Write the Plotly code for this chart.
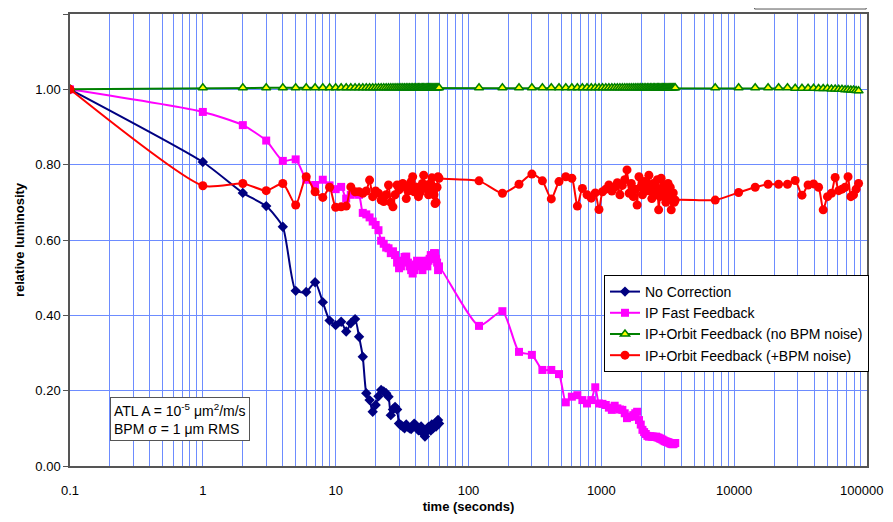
import plotly.graph_objects as go

# ---------------- data ----------------
t_sec = list(range(1, 61))                 # 1 .. 60 s, every second
t_min = list(range(120, 3601, 60))         # 120 .. 3600 s, every minute
t_hour = list(range(7200, 86401, 3600))    # 2 h .. 24 h, every hour

t_blue = [0.1] + t_sec
blue_vals = [1.0,
    0.807, 0.725, 0.690, 0.635, 0.465, 0.462, 0.488, 0.435, 0.386, 0.374,
    0.383, 0.357, 0.379, 0.390, 0.343, 0.290, 0.193, 0.175, 0.144, 0.162,
    0.185, 0.202, 0.198, 0.193, 0.184, 0.135, 0.150, 0.157, 0.150, 0.113,
    0.108, 0.105, 0.100, 0.110, 0.104, 0.100, 0.098, 0.106, 0.112, 0.109,
    0.100, 0.095, 0.096, 0.105, 0.090, 0.085, 0.078, 0.090, 0.098, 0.104,
    0.100, 0.094, 0.110, 0.100, 0.108, 0.113, 0.105, 0.118, 0.122, 0.113]

t_mag = [0.1] + t_sec + t_min
mag_vals = [1.0,
    0.940, 0.905, 0.864, 0.810, 0.814, 0.760, 0.746, 0.760, 0.745, 0.735,
    0.741, 0.710, 0.720, 0.725, 0.720, 0.672, 0.668, 0.660, 0.649, 0.640,
    0.626, 0.598, 0.590, 0.580, 0.578, 0.565, 0.570, 0.560, 0.540, 0.525,
    0.530, 0.545, 0.555, 0.556, 0.540, 0.530, 0.520, 0.511, 0.520, 0.535,
    0.545, 0.540, 0.542, 0.530, 0.520, 0.535, 0.545, 0.540, 0.530, 0.545,
    0.550, 0.560, 0.555, 0.560, 0.565, 0.565, 0.550, 0.540, 0.520, 0.530,
    # every minute 120 .. 3600
    0.372, 0.411, 0.303, 0.295, 0.255, 0.255, 0.244, 0.169, 0.184, 0.188,
    0.175, 0.166, 0.175, 0.209, 0.166, 0.165, 0.162, 0.155, 0.149, 0.160,
    0.153, 0.150, 0.149, 0.140, 0.127, 0.130, 0.131, 0.135, 0.140, 0.144,
    0.122, 0.110, 0.096, 0.090, 0.085, 0.080, 0.078, 0.079, 0.078, 0.078,
    0.077, 0.078, 0.076, 0.075, 0.073, 0.072, 0.070, 0.068, 0.066, 0.065,
    0.064, 0.063, 0.062, 0.060, 0.059, 0.058, 0.058, 0.060, 0.061, 0.061]

t_all = [0.1] + t_sec + t_min + t_hour
green_vals = [1.000,
    1.004, 1.004, 1.004, 1.004, 1.004, 1.004, 1.004, 1.004, 1.004, 1.004,
    1.004, 1.004, 1.004, 1.004, 1.004, 1.004, 1.004, 1.004, 1.004, 1.004,
    1.004, 1.004, 1.004, 1.004, 1.004, 1.004, 1.004, 1.004, 1.004, 1.004,
    1.004, 1.004, 1.004, 1.004, 1.004, 1.004, 1.004, 1.004, 1.004, 1.004,
    1.004, 1.004, 1.004, 1.004, 1.004, 1.004, 1.004, 1.004, 1.004, 1.004,
    1.004, 1.004, 1.004, 1.004, 1.004, 1.004, 1.004, 1.004, 1.004, 1.004,
    # every minute
    1.004, 1.004, 1.004, 1.004, 1.004, 1.004, 1.004, 1.004, 1.004, 1.004,
    1.004, 1.004, 1.004, 1.004, 1.004, 1.004, 1.004, 1.004, 1.004, 1.004,
    1.004, 1.004, 1.004, 1.004, 1.004, 1.004, 1.004, 1.004, 1.004, 1.004,
    1.004, 1.004, 1.004, 1.004, 1.004, 1.004, 1.004, 1.004, 1.004, 1.004,
    1.004, 1.004, 1.004, 1.004, 1.004, 1.004, 1.004, 1.004, 1.004, 1.004,
    1.004, 1.004, 1.004, 1.004, 1.004, 1.004, 1.004, 1.004, 1.004, 1.004,
    # every hour
    1.004, 1.004, 1.004, 1.004, 1.004, 1.003, 1.003, 1.003, 1.003, 1.002,
    1.002, 1.002, 1.001, 1.001, 1.000, 1.000, 0.999, 0.999, 0.998, 0.998,
    0.997, 0.996, 0.995]

red_vals = [1.0,
    0.744, 0.750, 0.731, 0.750, 0.693, 0.768, 0.728, 0.713, 0.740, 0.687,
    0.688, 0.690, 0.741, 0.728, 0.728, 0.724, 0.730, 0.759, 0.715, 0.730,
    0.724, 0.706, 0.702, 0.720, 0.746, 0.700, 0.688, 0.720, 0.746, 0.733,
    0.740, 0.750, 0.745, 0.710, 0.730, 0.740, 0.755, 0.768, 0.728, 0.741,
    0.735, 0.715, 0.725, 0.740, 0.750, 0.772, 0.737, 0.745, 0.746, 0.720,
    0.730, 0.750, 0.765, 0.740, 0.720, 0.697, 0.700, 0.740, 0.768, 0.764,
    # every minute
    0.757, 0.724, 0.748, 0.775, 0.757, 0.709, 0.755, 0.768, 0.764, 0.690,
    0.737, 0.720, 0.711, 0.725, 0.681, 0.728, 0.735, 0.746, 0.730, 0.740,
    0.752, 0.720, 0.745, 0.760, 0.786, 0.724, 0.750, 0.715, 0.735, 0.693,
    0.768, 0.740, 0.720, 0.755, 0.730, 0.745, 0.772, 0.730, 0.710, 0.750,
    0.720, 0.740, 0.760, 0.680, 0.715, 0.764, 0.730, 0.745, 0.720, 0.700,
    0.735, 0.750, 0.720, 0.740, 0.680, 0.710, 0.725, 0.700, 0.706, 0.706,
    # every hour
    0.726, 0.740, 0.748, 0.748, 0.748, 0.758, 0.719, 0.746, 0.749, 0.740,
    0.680, 0.715, 0.724, 0.766, 0.731, 0.735, 0.740, 0.768, 0.715, 0.720,
    0.735, 0.750, 0.728]

x_tickvals = [m * 10 ** e for e in range(-1, 5) for m in range(1, 10)] + [100000]
x_ticktext = ["0.1", "", "", "", "", "", "", "", "",
              "1", "", "", "", "", "", "", "", "",
              "10", "", "", "", "", "", "", "", "",
              "100", "", "", "", "", "", "", "", "",
              "1000", "", "", "", "", "", "", "", "",
              "10000", "", "", "", "", "", "", "", "",
              ""]
last_tick_label = "100000"   # drawn separately so it is not cut at the page edge

series_names = ["No Correction", "IP Fast Feedback",
                "IP+Orbit Feedback (no BPM noise)", "IP+Orbit Feedback (+BPM noise)"]

FONT = "Liberation Sans, Arial, sans-serif"
GRID = "#6d8cff"

fig = go.Figure()
fig.add_trace(go.Scatter(
    x=t_blue, y=blue_vals, name=series_names[0], mode="lines+markers",
    line=dict(color="#000080", width=2, shape="spline", smoothing=0.6),
    marker=dict(symbol="diamond", size=8, color="#000080")))
fig.add_trace(go.Scatter(
    x=t_mag, y=mag_vals, name=series_names[1], mode="lines+markers",
    line=dict(color="#ff00ff", width=2, shape="spline", smoothing=0.6),
    marker=dict(symbol="square", size=8, color="#ff00ff")))
fig.add_trace(go.Scatter(
    x=t_all, y=green_vals, name=series_names[2], mode="lines+markers",
    line=dict(color="#008000", width=2),
    marker=dict(symbol="triangle-up", size=8, color="#ffff00",
                line=dict(color="#008000", width=1.5))))
fig.add_trace(go.Scatter(
    x=t_all, y=red_vals, name=series_names[3], mode="lines+markers",
    line=dict(color="#ff0000", width=2, shape="spline", smoothing=0.6),
    marker=dict(symbol="circle", size=9, color="#ff0000")))

fig.update_layout(
    width=893, height=506,
    margin=dict(l=62, r=34, t=6, b=48),
    paper_bgcolor="white", plot_bgcolor="white",
    font=dict(family=FONT, size=13, color="black"),
    showlegend=True,
    legend=dict(x=0.67, y=0.4226, xanchor="left", yanchor="top",
                bgcolor="white", bordercolor="black", borderwidth=1,
                font=dict(family=FONT, size=14, color="black"),
                tracegroupgap=0, itemwidth=30),
    xaxis=dict(type="log", range=[-1, 5], tickmode="array",
               tickvals=x_tickvals, ticktext=x_ticktext, automargin=False,
               showgrid=True, gridcolor=GRID, gridwidth=1,
               showline=True, linecolor="#555555", linewidth=1.5, mirror=True,
               ticks="", ticklabelstandoff=12,
               tickfont=dict(family=FONT, size=13),
               title=dict(text="<b>time (seconds)</b>", standoff=14,
                          font=dict(family=FONT, size=13))),
    yaxis=dict(range=[0, 1.2], dtick=0.2, tick0=0, tickformat=".2f",
               automargin=False,
               showgrid=True, gridcolor=GRID, gridwidth=1, zeroline=False,
               showline=True, linecolor="#555555", linewidth=1.5, mirror=True,
               ticks="outside", ticklen=5, tickcolor="#555555",
               tickfont=dict(family=FONT, size=13),
               title=dict(text="<b>relative luminosity</b>", standoff=8,
                          font=dict(family=FONT, size=13))),
)

fig.add_annotation(
    xref="paper", yref="paper", x=1, y=0, xanchor="right", yanchor="middle",
    xshift=18, yshift=-24, text=last_tick_label, showarrow=False,
    font=dict(family=FONT, size=13, color="black"))

fig.add_annotation(
    xref="paper", yref="paper", x=0.05, y=0.1527, xanchor="left", yanchor="top",
    text="ATL A = 10<sup>-5</sup> μm<sup>2</sup>/m/s<br>BPM σ = 1 μm RMS",
    align="left", showarrow=False, bgcolor="white", bordercolor="#555555",
    borderwidth=1, borderpad=3, font=dict(family=FONT, size=14, color="black"))

# cut-off box at top right
fig.add_shape(type="rect", xref="paper", yref="paper", x0=0.859, x1=0.999,
              y0=1.011, y1=1.05, line=dict(color="#555555", width=1),
              fillcolor="white", layer="above")

fig.write_html("out.html")
